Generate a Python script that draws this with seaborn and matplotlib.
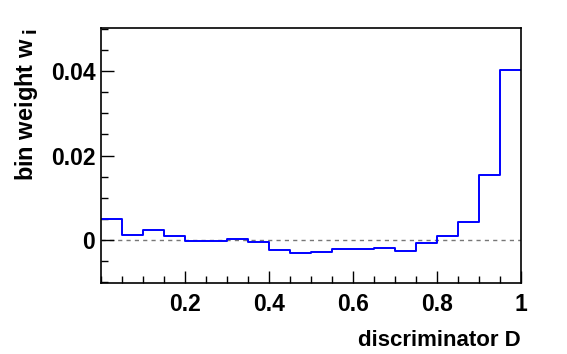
import numpy as np
import pandas as pd
import matplotlib
matplotlib.use("Agg")
import matplotlib.pyplot as plt
import seaborn as sns
from matplotlib.ticker import MultipleLocator

bin_centers = [0.025, 0.075, 0.125, 0.175, 0.225, 0.275, 0.325, 0.375, 0.425, 0.475,
               0.525, 0.575, 0.625, 0.675, 0.725, 0.775, 0.825, 0.875, 0.925, 0.975]
bin_weights = [0.0051, 0.0011, 0.0025, 0.00095, -0.00025, -0.0003, 0.00022, -0.0005, -0.0024, -0.0031,
               -0.0028, -0.0020, -0.0022, -0.0019, -0.0026, -0.0006, 0.00095, 0.0044, 0.0155, 0.0403]
x_ticks = [0.2, 0.4, 0.6, 0.8, 1.0]
x_tick_labels = ["0.2", "0.4", "0.6", "0.8", "1"]
y_ticks = [0.0, 0.02, 0.04]
y_tick_labels = ["0", "0.02", "0.04"]

df = pd.DataFrame({"D": bin_centers, "w": bin_weights})

sns.set_style("white")
plt.rcParams["font.family"] = ["Liberation Sans", "DejaVu Sans"]
plt.rcParams["font.weight"] = "bold"
plt.rcParams["text.color"] = "black"
plt.rcParams["axes.labelcolor"] = "black"
plt.rcParams["xtick.color"] = "black"
plt.rcParams["ytick.color"] = "black"
plt.rcParams["mathtext.default"] = "bf"

fig = plt.figure(figsize=(5.67, 3.54), dpi=100)
ax = fig.add_axes([0.178, 0.200, 0.741, 0.721])

sns.histplot(data=df, x="D", weights="w", bins=20, binrange=(0, 1),
             element="step", fill=False, color="#0000ff", linewidth=1.4, ax=ax)

ax.axhline(0, color="#777777", linestyle=(0, (3, 3)), linewidth=1.0, zorder=0)

ax.set_xlim(0, 1)
ax.set_ylim(-0.0102, 0.0502)
ax.set_xticks(x_ticks)
ax.set_xticklabels(x_tick_labels, fontsize=16.5, fontweight="bold")
ax.set_yticks(y_ticks)
ax.set_yticklabels(y_tick_labels, fontsize=16.5, fontweight="bold")
ax.xaxis.set_minor_locator(MultipleLocator(0.05))
ax.yaxis.set_minor_locator(MultipleLocator(0.005))
ax.tick_params(axis="x", which="major", pad=7)
ax.tick_params(axis="y", which="major", pad=4)
ax.tick_params(which="major", direction="in", length=9, width=1, color="black",
               bottom=True, left=True, top=False, right=False)
ax.tick_params(which="minor", direction="in", length=5, width=1, color="black",
               bottom=True, left=True, top=False, right=False)

for s in ax.spines.values():
    s.set_color("black")
    s.set_linewidth(1.2)

ax.set_xlabel("discriminator D", fontsize=16, fontweight="bold", loc="right", labelpad=10)
ax.set_ylabel(r"bin weight w$_{\;\mathbf{i}}$", fontsize=17, fontweight="bold", loc="top", labelpad=8)

fig.savefig("out.png", dpi=100)
